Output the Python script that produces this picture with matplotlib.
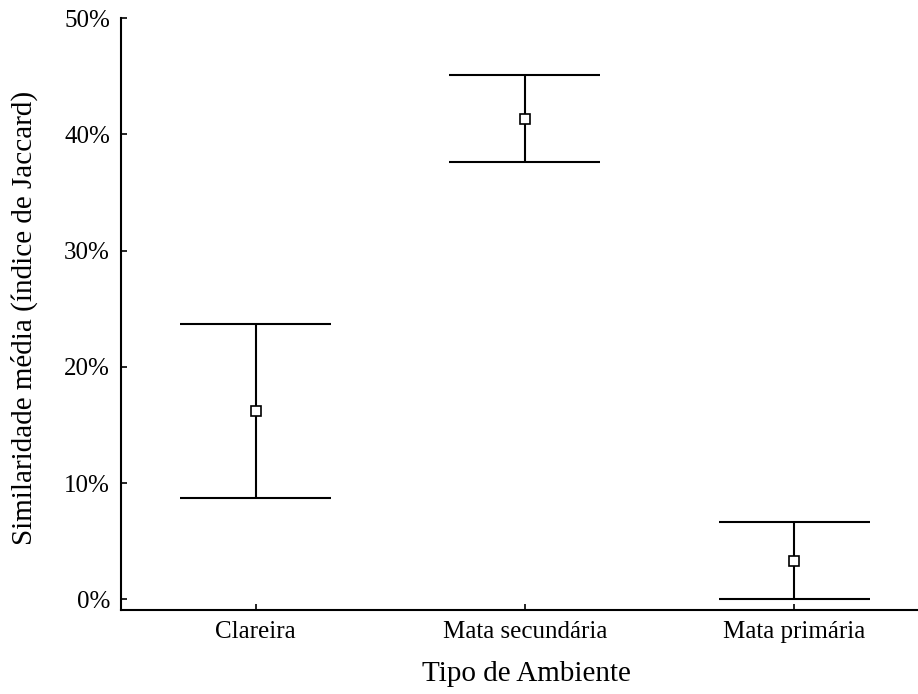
import matplotlib.pyplot as plt
import numpy as np
from matplotlib.ticker import FuncFormatter

plt.rcParams['font.family'] = ['Liberation Serif', 'DejaVu Serif']

categories = ['Clareira', 'Mata secundária', 'Mata primária']
means = [16.2, 41.3, 3.3]
upper = [23.7, 45.1, 6.65]
lower = [8.7, 37.6, 0.0]

fig = plt.figure(figsize=(9.18, 6.94), dpi=100)
ax = fig.add_axes([0.1318, 0.121, 0.8682, 0.8530])

x = np.arange(len(categories))
half = 0.28

ax.vlines(x, lower, upper, color='black', lw=1.5)
ax.hlines(upper, x - half, x + half, color='black', lw=1.5)
ax.hlines(lower, x - half, x + half, color='black', lw=1.5)
ax.plot(x, means, 's', color='black', mfc='white', ms=6.5, mew=1.2, zorder=3)

ax.set_xlim(-0.5, 2.46)
ax.set_ylim(-0.92, 50)
ax.set_xticks(x)
ax.set_xticklabels(categories)
ax.set_yticks(np.arange(0, 51, 10))
ax.yaxis.set_major_formatter(FuncFormatter(lambda v, p: f'{int(v)}%'))
ax.tick_params(direction='in', length=4, width=1.2, labelsize=18, pad=8)

for s in ['top', 'right']:
    ax.spines[s].set_visible(False)
for s in ['left', 'bottom']:
    ax.spines[s].set_linewidth(1.5)

ax.set_xlabel('Tipo de Ambiente', fontsize=21)
ax.set_ylabel('Similaridade média (índice de Jaccard)', fontsize=21)
ax.xaxis.set_label_coords(0.509, -0.086)
ax.yaxis.set_label_coords(-0.104, 0.493)

fig.savefig('out.png', dpi=100)
